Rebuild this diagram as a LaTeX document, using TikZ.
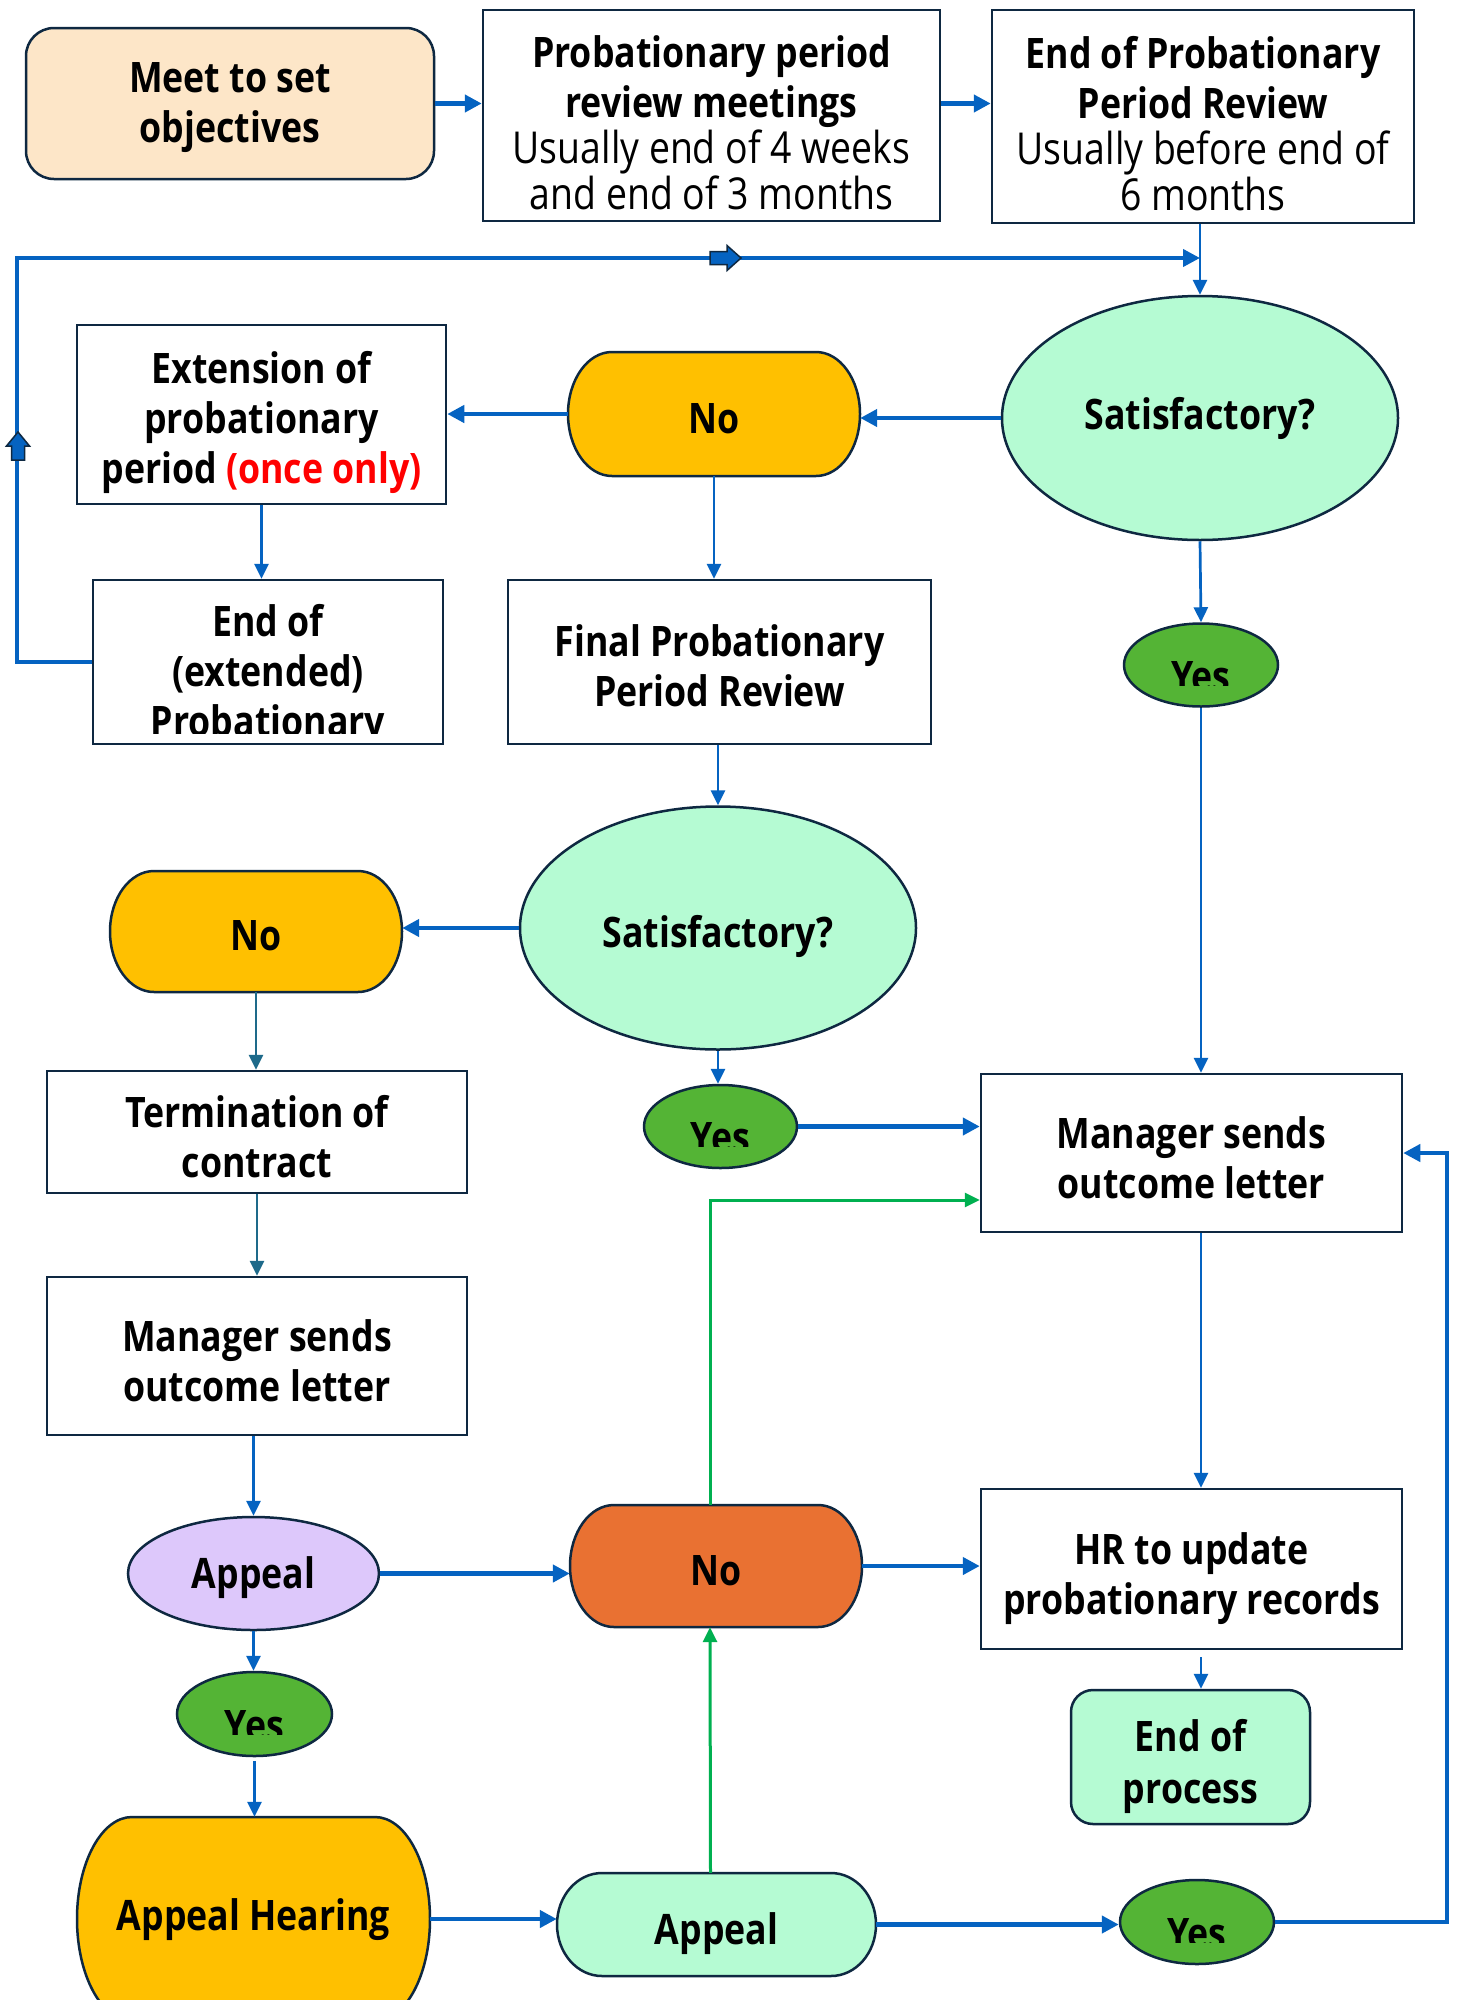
\documentclass[tikz,border=0pt]{standalone}
\usepackage{fontspec}
\setmainfont{Open Sans}[FakeStretch=0.85]
\usetikzlibrary{shapes.geometric,arrows.meta}
\definecolor{cnavy}{HTML}{0E2841}
\definecolor{cblue}{HTML}{0563C1}
\definecolor{cteal}{HTML}{1E6A8A}
\definecolor{cgrn}{HTML}{00B050}
\definecolor{cmint}{HTML}{B5FBD3}
\definecolor{cpeach}{HTML}{FDE6C8}
\definecolor{cgold}{HTML}{FFC000}
\definecolor{cyes}{HTML}{54B435}
\definecolor{clav}{HTML}{DDC8FB}
\definecolor{corng}{HTML}{E97132}
\newcommand\rg[1]{{\mdseries\fontsize{44}{46}\selectfont #1}}
% name, cx, cy, w, h, rx, fill, text-dy, text
\newcommand\capsule[9]{%
  \pgfmathsetmacro\capXl{#2-#4/2+#6}\pgfmathsetmacro\capXr{#2+#4/2-#6}%
  \pgfmathsetmacro\capYt{#3-#5/2}\pgfmathsetmacro\capYb{#3+#5/2}\pgfmathsetmacro\capHr{#5/2}%
  \draw[draw=cnavy, line width=2.5pt, fill=#7] (\capXl,\capYt) -- (\capXr,\capYt)
    arc[start angle=90,end angle=-90,x radius=#6pt,y radius=\capHr pt] -- (\capXl,\capYb)
    arc[start angle=270,end angle=90,x radius=#6pt,y radius=\capHr pt] -- cycle;
  \node[inner sep=0pt, minimum width=#4pt, minimum height=#5pt] (#1) at (#2,#3) {};
  \node[txt] (#1-t) at (#2,#3+#8) {#9};}
% [opts] name, cx, cy, w, h, text-dy, text
\newcommand\tbx[8][]{%
  \node[boxs, minimum width=#5pt, minimum height=#6pt, #1] (#2) at (#3,#4) {};
  \node[txt] (#2-t) at (#3,#4+#7) {#8};}
\newcommand\yestext[3]{\begin{scope}\clip (#2-70,#3-40) rectangle (#2+70,#3+20);
  \node[txt, anchor=base] (#1) at (#2,#3+26) {Yes};\end{scope}}
\begin{document}
\begin{tikzpicture}[x=1pt,y=-1pt,
  txt/.style={font=\fontsize{42}{50}\selectfont\bfseries, align=center, inner sep=0pt, text=black},
  boxs/.style={draw=cnavy, line width=2.5pt, fill=white, rectangle, inner sep=0pt},
  ell/.style={draw=cnavy, line width=2.5pt, ellipse, inner sep=0pt},
  thk/.style={draw=cblue, line width=4.5pt, -{Triangle[length=17pt,width=17pt]}},
  thn/.style={draw=cblue, line width=2.7pt, -{Triangle[length=15pt,width=14pt]}},
  flowmark/.style={fill=cblue, draw=cnavy, line width=1.5pt}]
\clip (0,0) rectangle (1459,2000);
\fill[white] (0,0) rectangle (1459,2000);
% nodes
\tbx[rounded corners=28pt, fill=cpeach]{meet}{230}{103.5}{408}{151}{4}{Meet to set\\objectives}
\tbx{prob}{711.5}{115.5}{457}{211}{7}{Probationary period\\review meetings\\[-4pt]\rg{Usually end of 4 weeks}\\[-4pt]\rg{and end of 3 months}}
\tbx{endpr}{1203}{116.5}{422}{213}{7}{End of Probationary\\Period Review\\[-4pt]\rg{Usually before end of}\\[-4pt]\rg{6 months}}
\node[ell, minimum width=396pt, minimum height=244pt, fill=cmint] (sat1) at (1200,418) {};
\node[txt] (sat1-t) at (1200,418) {Satisfactory?};
\capsule{no1}{714}{414}{292}{124}{44}{cgold}{5}{No}
\tbx{ext}{261.5}{414.5}{369}{179}{8}{Extension of\\probationary\\period {\color{red}(once only)}}
\node[boxs, minimum width=350pt, minimum height=164pt] (endext) at (268,662) {};
\begin{scope}\clip (95,582) rectangle (441,733);
\node[txt, anchor=north] (endext-t) at (268,604) {End of\\(extended)\\Probationary};
\end{scope}
\tbx{final}{719.5}{662}{423}{164}{4}{Final Probationary\\Period Review}
\node[ell, minimum width=154pt, minimum height=83pt, fill=cyes] (yes1) at (1201,665) {};
\yestext{yes1-t}{1201}{665}
\node[ell, minimum width=396pt, minimum height=243pt, fill=cmint] (sat2) at (718,928) {};
\node[txt] (sat2-t) at (718,936) {Satisfactory?};
\capsule{no2}{256}{931.5}{292}{121}{44}{cgold}{4}{No}
\tbx{term}{257}{1132}{420}{122}{5}{Termination of\\contract}
\node[ell, minimum width=153pt, minimum height=83pt, fill=cyes] (yes2) at (720.5,1126.5) {};
\yestext{yes2-t}{720.5}{1126.5}
\tbx{man1}{1191.5}{1153}{421}{158}{4.5}{Manager sends\\outcome letter}
\tbx{man2}{257}{1356}{420}{158}{4.5}{Manager sends\\outcome letter}
\node[ell, minimum width=251pt, minimum height=113pt, fill=clav] (app1) at (253.5,1573.5) {};
\node[txt] (app1-t) at (253.5,1577.5) {Appeal};
\capsule{no3}{716}{1566}{292}{122}{44}{corng}{5}{No}
\tbx{hr}{1191.5}{1569}{421}{160}{9.5}{HR to update\\probationary records}
\tbx[rounded corners=22pt, fill=cmint]{endp}{1190.5}{1757}{239}{134}{9.5}{End of\\[2pt]process}
\node[ell, minimum width=155pt, minimum height=84pt, fill=cyes] (yes3) at (254.5,1714) {};
\yestext{yes3-t}{254.5}{1714}
\capsule{hear}{253.5}{1919}{353}{204}{55}{cgold}{1}{Appeal Hearing}
\capsule{app2}{716.5}{1924.5}{319}{103}{45}{cmint}{9}{Appeal}
\node[ell, minimum width=154pt, minimum height=84pt, fill=cyes] (yes4) at (1197,1922) {};
\yestext{yes4-t}{1197}{1922}
% connectors
\draw[thk] (meet.east) -- (meet.east -| prob.west);
\draw[thk] (prob.east |- meet.east) -- (meet.east -| endpr.west);
\draw[thn] (endpr.south -| sat1.north) -- (sat1.north);
\coordinate (jn) at (sat1.north |- 0,258);
\draw[thk, line width=4pt] (endext.west) -- ++(-75,0) |- (jn);
\filldraw[flowmark] (710,251.5) -- (727,251.5) -- (727,245.5) -- (741,258) -- (727,270.5) -- (727,264.5) -- (710,264.5) -- cycle;
\filldraw[flowmark] (11.5,460) -- (11.5,446) -- (6.5,446) -- (18,432) -- (29.5,446) -- (24.5,446) -- (24.5,460) -- cycle;
\draw[thk] (sat1.west) -- (sat1.west -| no1.east);
\draw[thk] (no1.west) -- (no1.west -| ext.east);
\draw[thn] (ext.south) -- (ext.south |- endext.north);
\draw[thn] (no1.south) -- (no1.south |- final.north);
\draw[thn] (sat1.south) -- (yes1.north);
\draw[thn] (yes1.south) -- (yes1.south |- man1.north);
\draw[thn] (final.south -| sat2.north) -- (sat2.north);
\draw[thk] (sat2.west) -- (sat2.west -| no2.east);
\draw[thn, draw=cteal] (no2.south) -- (no2.south |- term.north);
\draw[thn, draw=cteal] (term.south) -- (term.south |- man2.north);
\draw[thn] (sat2.south) -- (sat2.south |- yes2.north);
\draw[thk] (yes2.east) -- (yes2.east -| man1.west);
\draw[thn, draw=cgrn, line width=3pt] ([xshift=-6pt]no3.north) |- (man1.west |- 0,1200);
\draw[thk, line width=4pt] (yes4.east) -- ++(172,0) |- (man1.east);
\draw[thn] (man1.south -| yes1.south) -- (hr.north -| yes1.south);
\draw[thn] ([yshift=-7pt]hr.south -| yes1.south) -- (endp.north -| yes1.south);
\draw[thn] (man2.south -| app1.north) -- (app1.north);
\draw[thk] (app1.east) -- (app1.east -| no3.west);
\draw[thk] (no3.east) -- (no3.east -| hr.west);
\draw[thn] (app1.south) -- (app1.south |- yes3.north);
\draw[thn] ([yshift=-4pt]yes3.south) -- (yes3.south |- hear.north);
\draw[thk] (hear.east) -- (hear.east -| app2.west);
\draw[thn, draw=cgrn, line width=3pt] ([xshift=-6pt]app2.north) -- ([xshift=-6pt]no3.south);
\draw[thk] (app2.east) -- (app2.east -| yes4.west);
\end{tikzpicture}
\end{document}
